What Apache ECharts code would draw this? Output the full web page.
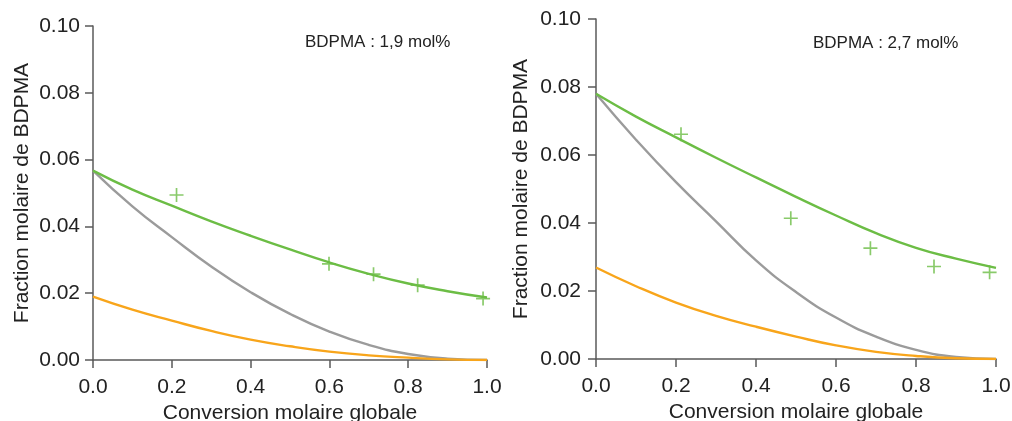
<!DOCTYPE html>
<html>
<head>
<meta charset="utf-8">
<script src="https://cdn.jsdelivr.net/npm/echarts@6/dist/echarts.min.js"></script>
<style>
html,body{margin:0;padding:0;background:#fff;}
#c{width:1012px;height:421px;}
</style>
</head>
<body>
<div id="c"></div>
<script>
// ---- data ----
const xGrid = [0, 0.1, 0.2, 0.3, 0.4, 0.5, 0.6, 0.7, 0.8, 0.9, 1.0];

const leftTitle = 'BDPMA : 1,9 mol%';
const leftGreen  = [0.0567, 0.0510, 0.0462, 0.0415, 0.0372, 0.0331, 0.0292, 0.0258, 0.0229, 0.0206, 0.0187];
const leftGray   = [0.0567, 0.0460, 0.0368, 0.0280, 0.0203, 0.0138, 0.0085, 0.0045, 0.0018, 0.0004, 0.0000];
const leftOrange = [0.0190, 0.0151, 0.0118, 0.0087, 0.0061, 0.0041, 0.0025, 0.0014, 0.0007, 0.0002, 0.0000];
const leftPointsX = [0.212, 0.599, 0.712, 0.824, 0.990];
const leftPointsY = [0.0494, 0.0288, 0.0257, 0.0224, 0.0184];

const rightTitle = 'BDPMA : 2,7 mol%';
const rightGreen  = [0.0780, 0.0713, 0.0652, 0.0592, 0.0534, 0.0477, 0.0422, 0.0370, 0.0327, 0.0295, 0.0268];
const rightGray   = [0.0780, 0.0645, 0.0520, 0.0405, 0.0290, 0.0197, 0.0122, 0.0066, 0.0027, 0.0006, 0.0000];
const rightOrange = [0.0269, 0.0214, 0.0166, 0.0127, 0.0095, 0.0066, 0.0040, 0.0021, 0.0009, 0.0002, 0.0000];
const rightPointsX = [0.2125, 0.487, 0.686, 0.845, 0.984];
const rightPointsY = [0.0661, 0.0414, 0.0326, 0.0272, 0.0255];

const xName = 'Conversion molaire globale';
const yName = 'Fraction molaire de BDPMA';

// ---- styles ----
const GREEN = '#6cbd45', GRAY = '#9b9b9b', ORANGE = '#f8a51b';
const AXIS = '#5a5a5a', TXT = '#222';
const FONT = '"Liberation Sans", Arial, sans-serif';
const PLUS = 'path://M4.4,0h1.2v4.4h4.4v1.2h-4.4v4.4h-1.2v-4.4h-4.4v-1.2h4.4z';

const zip = (xs, ys) => xs.map((x, i) => [x, ys[i]]);

function xAxis(gi) {
  return {
    gridIndex: gi, type: 'value', min: 0, max: 1, interval: 0.2,
    name: xName, nameLocation: 'middle', nameGap: 40,
    nameTextStyle: {fontFamily: FONT, fontSize: 21, color: TXT},
    axisLine: {show: true, lineStyle: {color: AXIS, width: 1.5}},
    axisTick: {show: true, inside: false, length: 8, lineStyle: {color: AXIS, width: 1.5}},
    axisLabel: {margin: 17, fontFamily: FONT, fontSize: 21, color: TXT,
      formatter: v => v.toFixed(1)},
    splitLine: {show: false}
  };
}
function yAxis(gi, margin, gap) {
  return {
    gridIndex: gi, type: 'value', min: 0, max: 0.1, interval: 0.02,
    name: yName, nameLocation: 'middle', nameGap: gap, nameRotate: 90,
    nameTextStyle: {fontFamily: FONT, fontSize: 21, color: TXT},
    axisLine: {show: true, lineStyle: {color: AXIS, width: 1.5}},
    axisTick: {show: true, inside: false, length: 8, lineStyle: {color: AXIS, width: 1.5}},
    axisLabel: {margin: margin, fontFamily: FONT, fontSize: 21, color: TXT,
      formatter: v => v.toFixed(2)},
    splitLine: {show: false}
  };
}
function line(gi, ys, color) {
  return {
    type: 'line', xAxisIndex: gi, yAxisIndex: gi, data: zip(xGrid, ys),
    smooth: 0.5, showSymbol: false, symbol: 'none',
    lineStyle: {color: color, width: 2.4}, silent: true, z: 2
  };
}
function pts(gi, xs, ys) {
  return {
    type: 'scatter', xAxisIndex: gi, yAxisIndex: gi, data: zip(xs, ys),
    symbol: PLUS, symbolSize: 14, itemStyle: {color: GREEN}, silent: true, z: 3
  };
}

const chart = echarts.init(document.getElementById('c'), null, {renderer: 'canvas'});
chart.setOption({
  animation: false,
  backgroundColor: '#fff',
  grid: [
    {left: 93, top: 26, width: 394, height: 334, containLabel: false, outerBoundsMode: 'none'},
    {left: 596, top: 19, width: 400, height: 340, containLabel: false, outerBoundsMode: 'none'}
  ],
  xAxis: [xAxis(0), xAxis(1)],
  yAxis: [yAxis(0, 13, 60), yAxis(1, 15, 64)],
  graphic: [
    {type: 'text', left: 305, top: 34, style: {text: leftTitle, fontFamily: FONT, fontSize: 17, fill: TXT}},
    {type: 'text', left: 813, top: 35, style: {text: rightTitle, fontFamily: FONT, fontSize: 17, fill: TXT}}
  ],
  series: [
    line(0, leftGray, GRAY), line(0, leftOrange, ORANGE), line(0, leftGreen, GREEN),
    pts(0, leftPointsX, leftPointsY),
    line(1, rightGray, GRAY), line(1, rightOrange, ORANGE), line(1, rightGreen, GREEN),
    pts(1, rightPointsX, rightPointsY)
  ]
});
</script>
</body>
</html>
